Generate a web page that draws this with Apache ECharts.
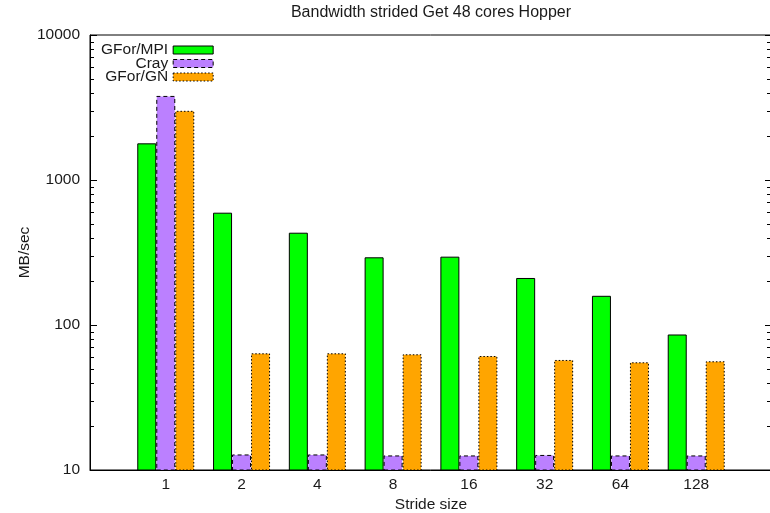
<!DOCTYPE html>
<html>
<head>
<meta charset="utf-8">
<script src="https://cdn.jsdelivr.net/npm/echarts@6/dist/echarts.min.js"></script>
<style>
html,body{margin:0;padding:0;background:#fff;}
#chart{width:770px;height:513px;}
</style>
</head>
<body>
<div id="chart"></div>
<script>
// ---- data ----
var categories = ['1', '2', '4', '8', '16', '32', '64', '128'];
var seriesNames = ['GFor/MPI', 'Cray', 'GFor/GN'];
var gforMpi = [1790, 595, 433, 293, 296, 211, 159, 86];
var cray    = [3800, 12.8, 12.8, 12.6, 12.6, 12.7, 12.6, 12.6];
var gforGn  = [3000, 63.8, 63.8, 62.8, 61.1, 57.4, 55.3, 56.2];
var yTicks  = [10, 100, 1000, 10000];
var minorMultipliers = [2, 3, 4, 5, 6, 7, 8, 9];

var FONT = 'Liberation Sans, Arial, Helvetica, sans-serif';
var TXT = '#1a1a1a';
var FS = 15.5;

var styles = [
  {color: '#00ff00', borderColor: '#000', borderWidth: 1, borderType: 'solid'},
  {color: '#bb80ff', borderColor: '#000', borderWidth: 1, borderType: [4, 3]},
  {color: '#ffa500', borderColor: '#000', borderWidth: 1, borderType: [1.5, 2]}
];

function pairs(arr) {
  return arr.map(function (v, i) { return [i, v]; });
}

// minor tick positions of the log axis (2..9 in each decade)
var minorTicks = [];
for (var d = 0; d < yTicks.length - 1; d++) {
  for (var m = 0; m < minorMultipliers.length; m++) {
    minorTicks.push([-1, yTicks[d] * minorMultipliers[m]]);
  }
}

var chart = echarts.init(document.getElementById('chart'), null, {renderer: 'canvas'});

var yCommon = {
  type: 'log',
  logBase: 10,
  min: 10,
  max: 10000,
  axisLine: {show: true, onZero: false, lineStyle: {color: '#000', width: 1}},
  axisTick: {show: true, inside: true, length: 7, lineStyle: {color: '#000'}},
  splitLine: {show: false}
};

var option = {
  animation: false,
  backgroundColor: '#fff',
  title: {
    text: 'Bandwidth strided Get 48 cores Hopper',
    left: 431,
    textAlign: 'center',
    top: 5,
    padding: 0,
    textStyle: {fontFamily: FONT, fontSize: 16, fontWeight: 'normal', color: TXT}
  },
  legend: {
    orient: 'vertical',
    align: 'right',
    left: 101,
    top: 42,
    padding: 0,
    itemGap: -2.5,
    itemWidth: 40,
    itemHeight: 8,
    icon: 'rect',
    textStyle: {fontFamily: FONT, fontSize: FS, color: TXT},
    data: seriesNames.map(function (n, i) {
      return {name: n, icon: 'rect', itemStyle: styles[i]};
    })
  },
  grid: {
    left: 90,
    right: -2,
    top: 35,
    bottom: 43,
    show: true,
    borderColor: '#000',
    borderWidth: 1,
    containLabel: false,
    outerBoundsMode: 'none'
  },
  xAxis: {
    type: 'value',
    min: -1,
    max: 8,
    interval: 1,
    name: 'Stride size',
    nameLocation: 'middle',
    nameGap: 27,
    nameMoveOverlap: false,
    nameTextStyle: {fontFamily: FONT, fontSize: FS, color: TXT},
    axisLine: {show: true, onZero: false, lineStyle: {color: '#000'}},
    axisTick: {show: false},
    splitLine: {show: false},
    axisLabel: {
      fontFamily: FONT, fontSize: FS, color: TXT, margin: 7,
      formatter: function (v) {
        return (v >= 0 && v < categories.length) ? categories[v] : '';
      }
    }
  },
  yAxis: [
    Object.assign({}, yCommon, {
      position: 'left',
      name: 'MB/sec',
      nameLocation: 'middle',
      nameGap: 57,
      nameRotate: 90,
      nameMoveOverlap: false,
      nameTextStyle: {fontFamily: FONT, fontSize: FS, color: TXT},
      axisLabel: {
        fontFamily: FONT, fontSize: FS, color: TXT, margin: 10,
        formatter: function (v) { return yTicks.indexOf(v) >= 0 ? String(v) : ''; }
      }
    }),
    Object.assign({}, yCommon, {
      position: 'right',
      axisLine: {show: false, onZero: false},
      axisLabel: {show: false}
    })
  ],
  series: [
    {
      name: seriesNames[0],
      type: 'bar',
      barWidth: 19,
      barGap: '0%',
      data: pairs(gforMpi),
      itemStyle: styles[0]
    },
    {
      name: seriesNames[1],
      type: 'bar',
      barWidth: 19,
      barGap: '0%',
      data: pairs(cray),
      itemStyle: styles[1]
    },
    {
      name: seriesNames[2],
      type: 'bar',
      barWidth: 19,
      barGap: '0%',
      data: pairs(gforGn),
      itemStyle: styles[2]
    },
    {
      name: 'minorTicks',
      type: 'custom',
      silent: true,
      z: 10,
      clip: false,
      data: minorTicks,
      renderItem: function (params, api) {
        var v = api.value(1);
        var p = api.coord([-1, v]);
        var q = api.coord([8, v]);
        var y = Math.round(p[1]) + 0.5;
        return {
          type: 'group',
          children: [
            {type: 'line', shape: {x1: p[0], y1: y, x2: p[0] + 4, y2: y}, style: {stroke: '#000', lineWidth: 1}},
            {type: 'line', shape: {x1: q[0] - 5, y1: y, x2: q[0], y2: y}, style: {stroke: '#000', lineWidth: 1}}
          ]
        };
      }
    }
  ]
};
chart.setOption(option);
</script>
</body>
</html>
